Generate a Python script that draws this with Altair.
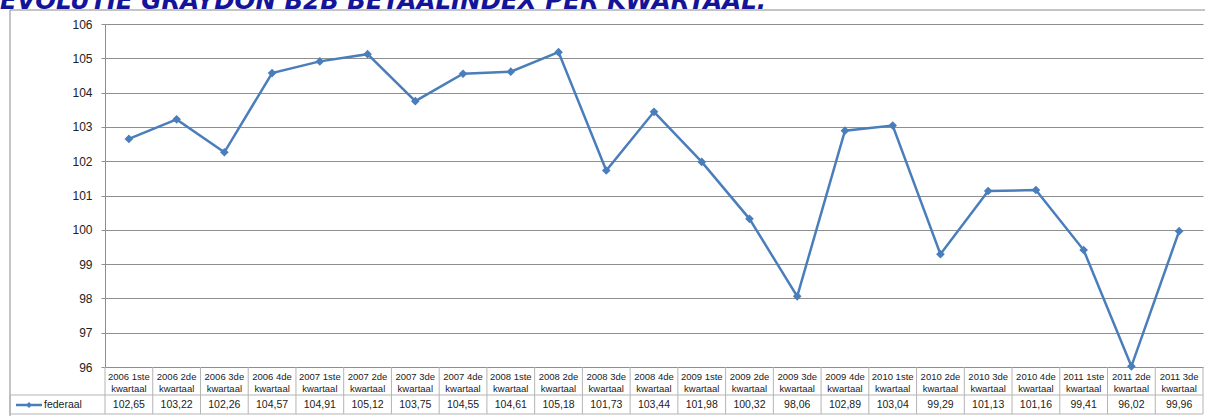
import altair as alt
import pandas as pd

# Quarter labels and the federal payment-index values per quarter
quarters = [
    "2006 1ste kwartaal", "2006 2de kwartaal", "2006 3de kwartaal", "2006 4de kwartaal",
    "2007 1ste kwartaal", "2007 2de kwartaal", "2007 3de kwartaal", "2007 4de kwartaal",
    "2008 1ste kwartaal", "2008 2de kwartaal", "2008 3de kwartaal", "2008 4de kwartaal",
    "2009 1ste kwartaal", "2009 2de kwartaal", "2009 3de kwartaal", "2009 4de kwartaal",
    "2010 1ste kwartaal", "2010 2de kwartaal", "2010 3de kwartaal", "2010 4de kwartaal",
    "2011 1ste kwartaal", "2011 2de kwartaal", "2011 3de kwartaal",
]
values = [
    102.65, 103.22, 102.26, 104.57,
    104.91, 105.12, 103.75, 104.55,
    104.61, 105.18, 101.73, 103.44,
    101.98, 100.32, 98.06, 102.89,
    103.04, 99.29, 101.13, 101.16,
    99.41, 96.02, 99.96,
]
y_ticks = [96, 97, 98, 99, 100, 101, 102, 103, 104, 105, 106]
series_name = "federaal"
title_text = "EVOLUTIE GRAYDON B2B BETAALINDEX PER KWARTAAL."

df = pd.DataFrame({"kwartaal": quarters, "waarde": values})
one = pd.DataFrame({"k": [0]})

W, H = 1098, 343
LINE = "#4A7EBB"
GRID = "#8E8E8E"
TABLE = "#B4B4B4"
FONT = "Liberation Sans"

band = alt.Scale(type="band", paddingInner=0, paddingOuter=0)
y_scale = alt.Scale(domain=[96, 106], nice=False, zero=False)

x_ax = alt.Axis(
    labelAngle=0, ticks=False, grid=False, domainColor=GRID,
    labelExpr="[replace(datum.label, ' kwartaal', ''), 'kwartaal']",
    labelFont=FONT, labelFontSize=9.5, labelColor="#222", labelLineHeight=12,
    labelBaseline="top", labelPadding=4, labelAlign="center",
)
y_ax = alt.Axis(
    values=y_ticks, tickCount=11, labelOverlap=False, grid=True, gridColor=GRID, gridWidth=1,
    domainColor=GRID, tickColor=GRID, tickSize=4,
    labelFont=FONT, labelFontSize=12, labelColor="#222", labelPadding=9,
)


def xenc(pos):
    return alt.X("kwartaal:N", sort=quarters, scale=band, bandPosition=pos, title=None, axis=x_ax)


y_enc = alt.Y("waarde:Q", title=None, scale=y_scale, axis=y_ax)

base = alt.Chart(df)

line = base.mark_line(color=LINE, strokeWidth=2.5).encode(x=xenc(0.5), y=y_enc)
points = base.mark_point(shape="diamond", filled=True, size=75, color=LINE, opacity=1).encode(
    x=xenc(0.5), y=y_enc
)

# data table below the plot: column separators, row lines and values
col_lines = base.mark_rule(color=TABLE, strokeWidth=1).encode(
    x=xenc(0), y=alt.value(H), y2=alt.value(H + 47)
)
decor = alt.Chart(one)
right_line = decor.mark_rule(color=TABLE).encode(x=alt.value(W), y=alt.value(H), y2=alt.value(H + 47))
row_line = decor.mark_rule(color=TABLE).encode(x=alt.value(-95), x2=alt.value(W), y=alt.value(H + 28))
bottom_line = decor.mark_rule(color=TABLE).encode(x=alt.value(-95), x2=alt.value(W), y=alt.value(H + 47))
legend_left = decor.mark_rule(color=TABLE).encode(x=alt.value(-95), y=alt.value(H + 28), y2=alt.value(H + 47))

value_text = base.transform_calculate(
    label="replace(format(datum.waarde, '.2f'), '.', ',')"
).mark_text(font=FONT, fontSize=10.5, color="#222").encode(
    x=xenc(0.5), y=alt.value(H + 38), text="label:N"
)

legend_swatch = decor.mark_rule(color=LINE, strokeWidth=2.5).encode(
    x=alt.value(-89), x2=alt.value(-63), y=alt.value(H + 38)
)
legend_dot = decor.mark_point(shape="diamond", filled=True, size=35, color=LINE, opacity=1).encode(
    x=alt.value(-76), y=alt.value(H + 38)
)
legend_text = decor.mark_text(text=series_name, font=FONT, fontSize=10.5, color="#222", align="left").encode(
    x=alt.value(-61), y=alt.value(H + 38)
)

# outer chart frame and the heading above it
frame_top = decor.mark_rule(color="#8A8A8A").encode(x=alt.value(-95), x2=alt.value(W + 2), y=alt.value(-14))
frame_left = decor.mark_rule(color="#8A8A8A").encode(x=alt.value(-95), y=alt.value(-14), y2=alt.value(H + 49))
heading = decor.mark_text(
    text=title_text, font="DejaVu Sans", fontSize=24.5, fontWeight="bold", fontStyle="italic",
    color="#14149B", align="left", baseline="alphabetic",
).encode(x=alt.value(-105), y=alt.value(-15))

chart = alt.layer(
    line, points, col_lines, value_text,
    frame_top, frame_left, heading,
    right_line, row_line, bottom_line, legend_left,
    legend_swatch, legend_dot, legend_text,
).properties(
    width=W, height=H,
    autosize=alt.AutoSizeParams(type="none"),
    padding={"left": 105, "top": 24, "right": 2, "bottom": 49},
    background="white",
).configure_view(stroke=None)

chart.save("out.html", embed_options={"renderer": "svg", "actions": False})
